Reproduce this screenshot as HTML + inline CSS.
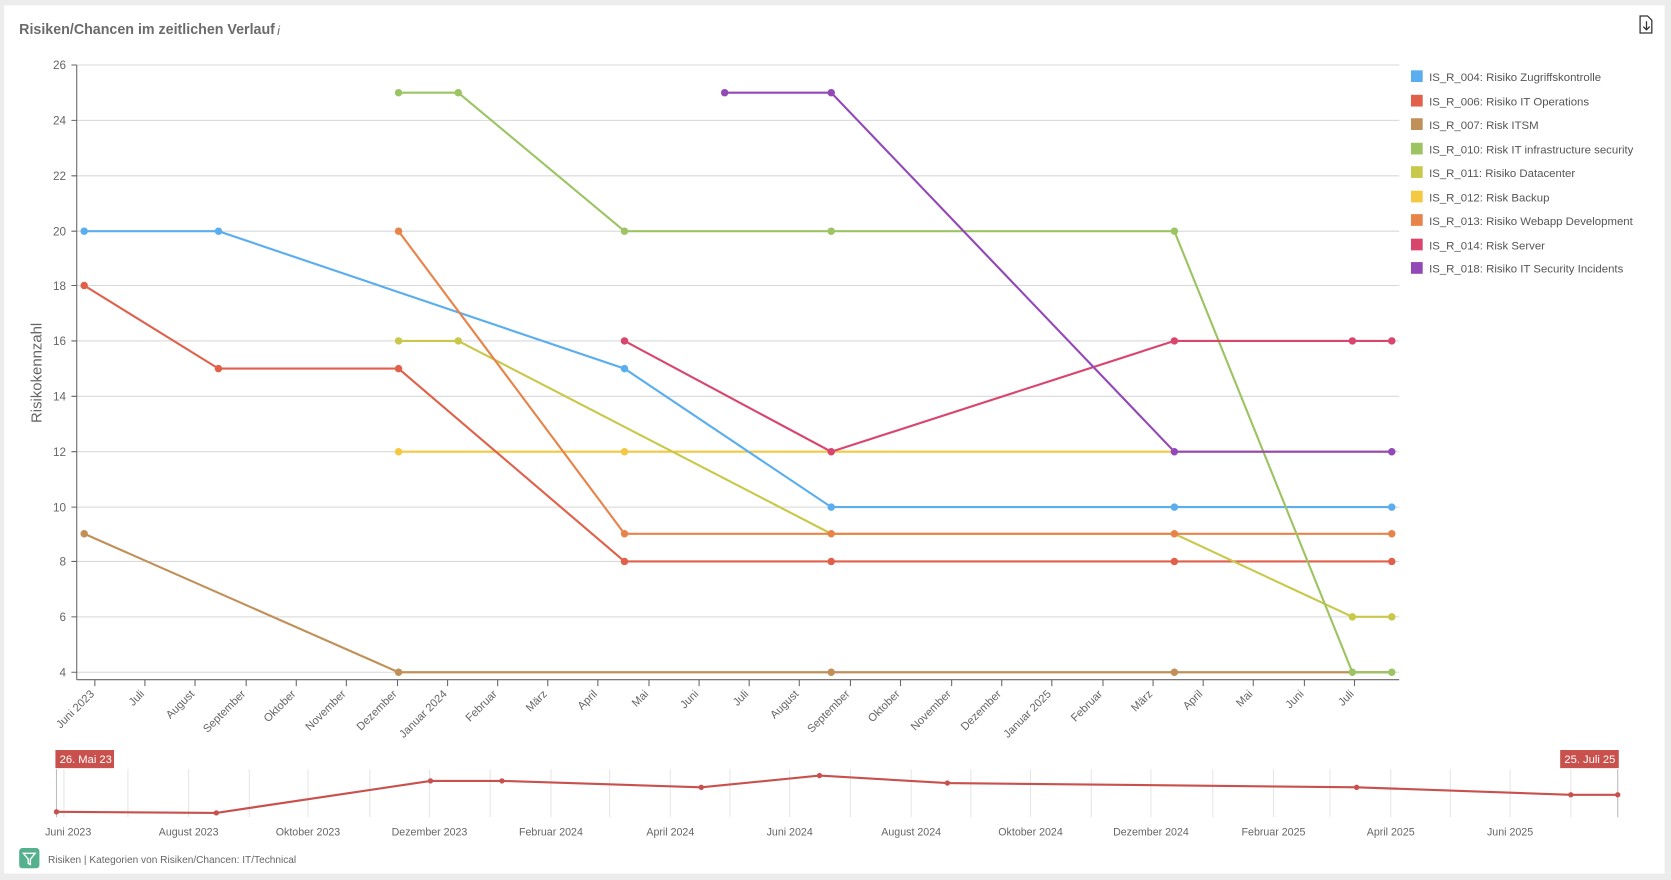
<!DOCTYPE html>
<html><head><meta charset="utf-8"><style>
html,body{margin:0;padding:0;background:#ececec;}
svg{display:block;font-family:"Liberation Sans",sans-serif;}
</style></head><body>
<svg width="1671" height="880" viewBox="0 0 1568 826" preserveAspectRatio="none" xmlns="http://www.w3.org/2000/svg">
<rect x="0" y="0" width="1568" height="826" fill="#ececec"/>
<rect x="4" y="5" width="1558" height="815" fill="#fff"/>
<text x="18" y="32" font-size="13.5" font-weight="bold" fill="#6b6b6b" textLength="240" lengthAdjust="spacingAndGlyphs">Risiken/Chancen im zeitlichen Verlauf</text>
<text x="260" y="33" font-size="12" font-style="italic" fill="#6b6b6b">i</text>
<g fill="none" stroke="#333" stroke-width="1.2"><path d="M1539 15h7l4 4v12h-11z"/><path d="M1545 20v8m-3-3l3 3 3-3"/></g>
<g stroke="#d8d8d8" stroke-width="1">
<line x1="72" x2="1313" y1="61" y2="61"/><line x1="72" x2="1313" y1="113" y2="113"/><line x1="72" x2="1313" y1="165" y2="165"/><line x1="72" x2="1313" y1="217" y2="217"/><line x1="72" x2="1313" y1="268" y2="268"/><line x1="72" x2="1313" y1="320" y2="320"/><line x1="72" x2="1313" y1="372" y2="372"/><line x1="72" x2="1313" y1="424" y2="424"/><line x1="72" x2="1313" y1="476" y2="476"/><line x1="72" x2="1313" y1="527" y2="527"/><line x1="72" x2="1313" y1="579" y2="579"/><line x1="72" x2="1313" y1="631" y2="631"/>
</g>
<g stroke="#666" stroke-width="1"><line x1="72" y1="61" x2="72" y2="638"/><line x1="72" y1="638" x2="1313" y2="638"/>
<path d="M67 61h5M67 113h5M67 165h5M67 217h5M67 268h5M67 320h5M67 372h5M67 424h5M67 476h5M67 527h5M67 579h5M67 631h5"/>
<path d="M89 638v6M136 638v6M183 638v6M231 638v6M278 638v6M325 638v6M373 638v6M420 638v6M467 638v6M514 638v6M561 638v6M609 638v6M656 638v6M703 638v6M750 638v6M798 638v6M845 638v6M893 638v6M940 638v6M987 638v6M1035 638v6M1082 638v6M1129 638v6M1176 638v6M1224 638v6M1271 638v6"/></g>
<g font-size="11" fill="#666" text-anchor="end">
<text x="62" y="65">26</text><text x="62" y="117">24</text><text x="62" y="169">22</text><text x="62" y="221">20</text><text x="62" y="272">18</text><text x="62" y="324">16</text><text x="62" y="376">14</text><text x="62" y="428">12</text><text x="62" y="480">10</text><text x="62" y="531">8</text><text x="62" y="583">6</text><text x="62" y="635">4</text>
</g>
<text transform="translate(39 350) rotate(-90)" font-size="14" fill="#666" text-anchor="middle">Risikokennzahl</text>
<g font-size="10.5" fill="#666" text-anchor="end">
<text transform="translate(89 652) rotate(-45)">Juni 2023</text><text transform="translate(136 652) rotate(-45)">Juli</text><text transform="translate(183 652) rotate(-45)">August</text><text transform="translate(231 652) rotate(-45)">September</text><text transform="translate(278 652) rotate(-45)">Oktober</text><text transform="translate(325 652) rotate(-45)">November</text><text transform="translate(373 652) rotate(-45)">Dezember</text><text transform="translate(420 652) rotate(-45)">Januar 2024</text><text transform="translate(467 652) rotate(-45)">Februar</text><text transform="translate(514 652) rotate(-45)">März</text><text transform="translate(561 652) rotate(-45)">April</text><text transform="translate(609 652) rotate(-45)">Mai</text><text transform="translate(656 652) rotate(-45)">Juni</text><text transform="translate(703 652) rotate(-45)">Juli</text><text transform="translate(750 652) rotate(-45)">August</text><text transform="translate(798 652) rotate(-45)">September</text><text transform="translate(845 652) rotate(-45)">Oktober</text><text transform="translate(893 652) rotate(-45)">November</text><text transform="translate(940 652) rotate(-45)">Dezember</text><text transform="translate(987 652) rotate(-45)">Januar 2025</text><text transform="translate(1035 652) rotate(-45)">Februar</text><text transform="translate(1082 652) rotate(-45)">März</text><text transform="translate(1129 652) rotate(-45)">April</text><text transform="translate(1176 652) rotate(-45)">Mai</text><text transform="translate(1224 652) rotate(-45)">Juni</text><text transform="translate(1271 652) rotate(-45)">Juli</text>
</g>
<g fill="none" stroke-width="2">
<polyline stroke="#f4c842" points="374,424 586,424 780,424 1102,424 1306,424"/>
<polyline stroke="#5aaef0" points="79,217 205,217 586,346 780,476 1102,476 1306,476"/>
<polyline stroke="#e0604a" points="79,268 205,346 374,346 586,527 780,527 1102,527 1306,527"/>
<polyline stroke="#c09058" points="79,501 374,631 780,631 1102,631 1269,631 1306,631"/>
<polyline stroke="#c8c84a" points="374,320 430,320 780,501 1102,501 1269,579 1306,579"/>
<polyline stroke="#e8834a" points="374,217 586,501 780,501 1102,501 1306,501"/>
<polyline stroke="#9cc463" points="374,87 430,87 586,217 780,217 1102,217 1269,631 1306,631"/>
<polyline stroke="#d8466e" points="586,320 780,424 1102,320 1269,320 1306,320"/>
<polyline stroke="#9348b8" points="680,87 780,87 1102,424 1306,424"/>
</g>
<g>
<g fill="#f4c842"><circle cx="374" cy="424" r="3.5"/><circle cx="586" cy="424" r="3.5"/></g>
<g fill="#5aaef0"><circle cx="79" cy="217" r="3.5"/><circle cx="205" cy="217" r="3.5"/><circle cx="586" cy="346" r="3.5"/><circle cx="780" cy="476" r="3.5"/><circle cx="1102" cy="476" r="3.5"/><circle cx="1306" cy="476" r="3.5"/></g>
<g fill="#e0604a"><circle cx="79" cy="268" r="3.5"/><circle cx="205" cy="346" r="3.5"/><circle cx="374" cy="346" r="3.5"/><circle cx="586" cy="527" r="3.5"/><circle cx="780" cy="527" r="3.5"/><circle cx="1102" cy="527" r="3.5"/><circle cx="1306" cy="527" r="3.5"/></g>
<g fill="#c09058"><circle cx="79" cy="501" r="3.5"/><circle cx="374" cy="631" r="3.5"/><circle cx="780" cy="631" r="3.5"/><circle cx="1102" cy="631" r="3.5"/></g>
<g fill="#c8c84a"><circle cx="374" cy="320" r="3.5"/><circle cx="430" cy="320" r="3.5"/><circle cx="1269" cy="579" r="3.5"/><circle cx="1306" cy="579" r="3.5"/></g>
<g fill="#e8834a"><circle cx="374" cy="217" r="3.5"/><circle cx="586" cy="501" r="3.5"/><circle cx="780" cy="501" r="3.5"/><circle cx="1102" cy="501" r="3.5"/><circle cx="1306" cy="501" r="3.5"/></g>
<g fill="#9cc463"><circle cx="374" cy="87" r="3.5"/><circle cx="430" cy="87" r="3.5"/><circle cx="586" cy="217" r="3.5"/><circle cx="780" cy="217" r="3.5"/><circle cx="1102" cy="217" r="3.5"/><circle cx="1269" cy="631" r="3.5"/><circle cx="1306" cy="631" r="3.5"/></g>
<g fill="#d8466e"><circle cx="586" cy="320" r="3.5"/><circle cx="780" cy="424" r="3.5"/><circle cx="1102" cy="320" r="3.5"/><circle cx="1269" cy="320" r="3.5"/><circle cx="1306" cy="320" r="3.5"/></g>
<g fill="#9348b8"><circle cx="680" cy="87" r="3.5"/><circle cx="780" cy="87" r="3.5"/><circle cx="1102" cy="424" r="3.5"/><circle cx="1306" cy="424" r="3.5"/></g>
</g>
<g font-size="10.7" fill="#555">
<rect x="1324" y="66" width="11" height="11" fill="#5aaef0"/><text x="1341" y="76">IS_R_004: Risiko Zugriffskontrolle</text>
<rect x="1324" y="89" width="11" height="11" fill="#e0604a"/><text x="1341" y="99">IS_R_006: Risiko IT Operations</text>
<rect x="1324" y="111" width="11" height="11" fill="#c09058"/><text x="1341" y="121">IS_R_007: Risk ITSM</text>
<rect x="1324" y="134" width="11" height="11" fill="#9cc463"/><text x="1341" y="144">IS_R_010: Risk IT infrastructure security</text>
<rect x="1324" y="156" width="11" height="11" fill="#c8c84a"/><text x="1341" y="166">IS_R_011: Risiko Datacenter</text>
<rect x="1324" y="179" width="11" height="11" fill="#f4c842"/><text x="1341" y="189">IS_R_012: Risk Backup</text>
<rect x="1324" y="201" width="11" height="11" fill="#e8834a"/><text x="1341" y="211">IS_R_013: Risiko Webapp Development</text>
<rect x="1324" y="224" width="11" height="11" fill="#d8466e"/><text x="1341" y="234">IS_R_014: Risk Server</text>
<rect x="1324" y="246" width="11" height="11" fill="#9348b8"/><text x="1341" y="256">IS_R_018: Risiko IT Security Incidents</text>
</g>
<g stroke="#e6e6e6" stroke-width="1">
<path d="M60 722v45M120 722v45M177 722v45M234 722v45M289 722v45M347 722v45M403 722v45M460 722v45M517 722v45M572 722v45M629 722v45M685 722v45M741 722v45M798 722v45M855 722v45M911 722v45M967 722v45M1024 722v45M1080 722v45M1138 722v45M1195 722v45M1248 722v45M1305 722v45M1361 722v45M1417 722v45M1474 722v45"/>
<path d="M53 722v45M1518 722v45" stroke="#bbb"/>
</g>
<polyline fill="none" stroke="#c9514d" stroke-width="2" points="53,762 203,763 404,733 471,733 658,739 769,728 889,735 1273,739 1474,746 1518,746"/>
<g fill="#c9514d"><circle cx="53" cy="762" r="2.5"/><circle cx="203" cy="763" r="2.5"/><circle cx="404" cy="733" r="2.5"/><circle cx="471" cy="733" r="2.5"/><circle cx="658" cy="739" r="2.5"/><circle cx="769" cy="728" r="2.5"/><circle cx="889" cy="735" r="2.5"/><circle cx="1273" cy="739" r="2.5"/><circle cx="1474" cy="746" r="2.5"/><circle cx="1518" cy="746" r="2.5"/>
<rect x="52" y="704" width="55" height="17"/><rect x="1464" y="704" width="55" height="17"/></g>
<g font-size="10.5" fill="#fff"><text x="56" y="716">26. Mai 23</text><text x="1468" y="716">25. Juli 25</text></g>
<g font-size="10" fill="#666" text-anchor="middle">
<text x="64" y="784">Juni 2023</text><text x="177" y="784">August 2023</text><text x="289" y="784">Oktober 2023</text><text x="403" y="784">Dezember 2023</text><text x="517" y="784">Februar 2024</text><text x="629" y="784">April 2024</text><text x="741" y="784">Juni 2024</text><text x="855" y="784">August 2024</text><text x="967" y="784">Oktober 2024</text><text x="1080" y="784">Dezember 2024</text><text x="1195" y="784">Februar 2025</text><text x="1305" y="784">April 2025</text><text x="1417" y="784">Juni 2025</text>
</g>
<rect x="18" y="796" width="19" height="19" rx="3" fill="#55b08e"/>
<path d="M22 801h11l-4.5 5.5v5l-2 -1v-4z" fill="none" stroke="#fff" stroke-width="1.3"/>
<text x="45" y="810" font-size="9.5" fill="#666">Risiken | Kategorien von Risiken/Chancen: IT/Technical</text>
</svg>
</body></html>
